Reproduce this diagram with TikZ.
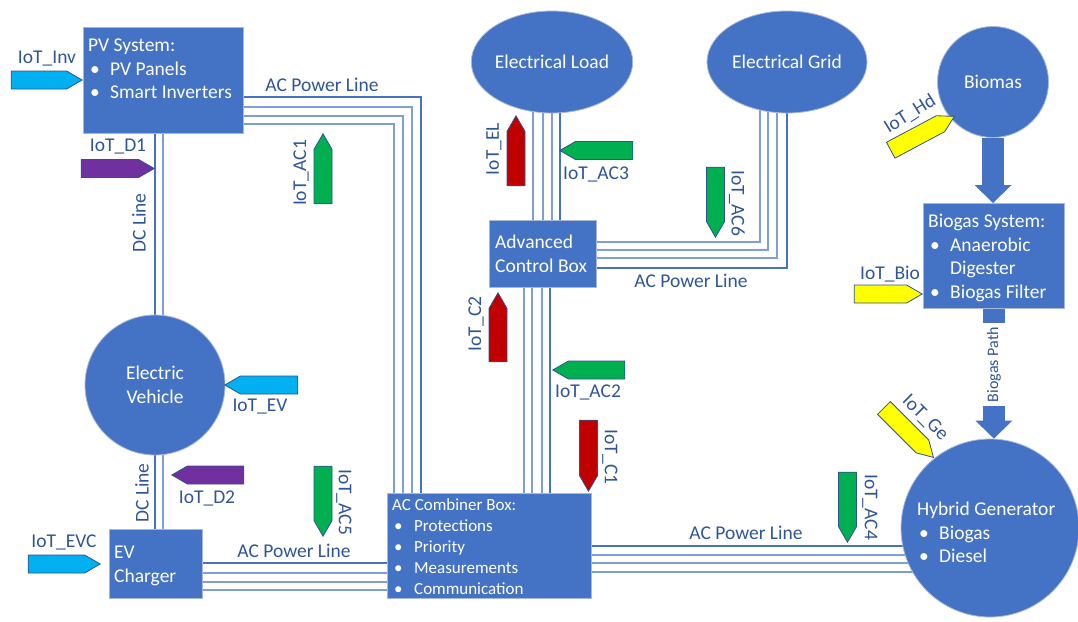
\documentclass[tikz,border=0pt]{standalone}
\usepackage{fontspec}
\setmainfont{Carlito}
\usetikzlibrary{arrows.meta,calc,positioning,shapes.geometric,shapes.symbols}
\definecolor{BoxBlue}{HTML}{4472C4}
\definecolor{BoxEdge}{HTML}{A9B8D6}
\definecolor{LabelBlue}{HTML}{2F5597}
\definecolor{LineLight}{HTML}{7F9ED8}
\definecolor{IoTEdge}{HTML}{2F528F}
\definecolor{IoTCyan}{HTML}{00B0F0}
\definecolor{IoTPurple}{HTML}{7030A0}
\definecolor{IoTGreen}{HTML}{00B050}
\definecolor{IoTRed}{HTML}{C00000}
\definecolor{IoTYellow}{HTML}{FFFF00}
\pgfdeclarelayer{background}
\pgfsetlayers{background,main}
\newcommand{\itm}{\hspace*{2pt}\makebox[20pt][l]{\textbullet}}
\tikzset{
  box/.style={draw=BoxEdge,line width=0.8pt,fill=BoxBlue,inner sep=0pt,anchor=north west},
  boxtext/.style={text=white,align=left,inner sep=0pt,anchor=north west,font=\fontsize{19.5}{23.5}\selectfont},
  blob/.style={draw=BoxEdge,line width=0.8pt,fill=BoxBlue,text=white,inner sep=0pt,align=center,font=\fontsize{19.5}{23.5}\selectfont},
  lab/.style={text=LabelBlue,inner sep=0pt,font=\fontsize{19.5}{23.5}\selectfont},
  iot/.style={signal,signal to=east,signal pointer angle=60,draw=IoTEdge,line width=0.8pt,minimum height=18pt,inner sep=0pt,anchor=east},
  acdark/.style={draw=BoxBlue,line width=1.6pt},
  aclight/.style={draw=LineLight,line width=1.1pt},
  fat/.style={draw=BoxBlue,line width=22pt,-{Triangle[length=18pt,width=37pt,line width=0pt]}},
  pathlab/.style={fill=white,text=LabelBlue,rotate=90,inner sep=0pt,minimum width=83pt,minimum height=22pt,font=\fontsize{16}{19}\selectfont},
}

\begin{document}
\begin{tikzpicture}[x=1pt,y=-1pt]
\useasboundingbox (0,0) rectangle (1078,621);

% Boxes
\node[box,minimum width=160pt,minimum height=106pt] (pv) at (83,27) {};
\node[boxtext] (pvtext) at (88,39) {PV System:\\\itm PV Panels\\\itm Smart Inverters};
\node[box,minimum width=107pt,minimum height=67pt] (acb) at (489,220) {};
\node[boxtext] (acbtext) at (495,235) {Advanced\\Control Box};
\node[box,minimum width=93pt,minimum height=69pt] (evc) at (109,529) {};
\node[boxtext] (evctext) at (114,546) {EV\\Charger};
\node[box,minimum width=204pt,minimum height=105pt] (comb) at (387,493) {};
\node[boxtext,font=\fontsize{17}{21}\selectfont] (combtext) at (392,498)
  {AC Combiner Box:\\\itm Protections\\\itm Priority\\\itm Measurements\\\itm Communication};
\node[box,minimum width=141pt,minimum height=105pt] (biogas) at (923,203) {};
\node[boxtext] (biogastext) at (928,214)
  {Biogas System:\\\itm Anaerobic\\\hspace*{22pt}Digester\\\itm Biogas Filter};

% Round nodes
\node[blob,ellipse,minimum width=160pt,minimum height=102pt] (el) at (552,62) {Electrical Load};
\node[blob,ellipse,minimum width=160pt,minimum height=102pt] (grid) at (787,62) {Electrical Grid};
\node[blob,circle,minimum size=111pt] (biomas) at (993,82) {Biomas};
\node[blob,circle,minimum size=140pt] (ev) at (155,385) {Electric\\Vehicle};
\node[blob,circle,minimum size=178pt] (hg) at (990,528) {};
\node[boxtext] (hgtext) at (917,502) {Hybrid Generator\\\itm Biogas\\\itm Diesel};

% Power lines
\begin{pgfonlayer}{background}
\foreach \dy/\dx/\sty in {70/34/acdark,80/25/aclight,89/16/aclight,97/7/aclight}
  \draw[\sty] ($(pv.north east)+(0,\dy)$) -| ($(comb.north west)+(\dx,0)$);
\foreach \dx/\sty in {0/acdark,8/aclight}{
  \coordinate (dc) at ($(ev.center)+(\dx,0)$);
  \draw[\sty] (dc |- pv.south) -- (dc |- evc.north);
}
\foreach \dy/\sty in {34/acdark,44/aclight,53/aclight,61/aclight}{
  \coordinate (ac) at ($(evc.north east)+(0,\dy)$);
  \draw[\sty] (ac) -- (ac -| comb.west);
}
\foreach \dy/\sty in {53/acdark,62/aclight,70/aclight,79/aclight}{
  \coordinate (ac) at ($(comb.north east)+(0,\dy)$);
  \draw[\sty] (ac) -- (ac -| hg.center);
}
\foreach \dx/\sty in {44/aclight,54/aclight,63/aclight,71/acdark}{
  \coordinate (ac) at ($(acb.north west)+(\dx,0)$);
  \draw[\sty] (ac) -- (ac |- el.center);
}
\foreach \dy/\dx/\sty in {22/-27/aclight,30/-19/aclight,38/-10/aclight,48/0/acdark}
  \draw[\sty] ($(acb.north east)+(0,\dy)$) -| ($(grid.center)+(\dx,0)$);
\foreach \dx/\sty in {35/aclight,43/aclight,53/aclight,61/acdark}{
  \coordinate (ac) at ($(acb.south west)+(\dx,0)$);
  \draw[\sty] (ac) -- (ac |- comb.north);
}
\end{pgfonlayer}

% Biogas flow
\draw[fat] (biomas.south) -- (biomas.south |- biogas.north);
\draw[fat] (biogas.south) -- node[pathlab,pos=0.43] (bpath) {Biogas Path} (biogas.south |- hg.north);

% IoT sensors (placed by their tips)
\node[iot,fill=IoTCyan,minimum width=71pt] (iotinv) at (83,80) {};
\node[iot,fill=IoTPurple,minimum width=73pt] (iotd1) at (155,168.5) {};
\node[iot,fill=IoTGreen,rotate=90,minimum width=70pt] (iotac1) at (323,133) {};
\node[iot,fill=IoTRed,rotate=90,minimum width=70pt] (iotel) at (516,115) {};
\node[iot,fill=IoTGreen,rotate=180,minimum width=73pt] (iotac3) at (559,150.5) {};
\node[iot,fill=IoTGreen,rotate=-90,minimum width=70pt] (iotac6) at (715.5,238) {};
\node[iot,fill=IoTRed,rotate=90,minimum width=69pt] (iotc2) at (498,292) {};
\node[iot,fill=IoTGreen,rotate=180,minimum width=72pt] (iotac2) at (552,370) {};
\node[iot,fill=IoTRed,rotate=-90,minimum width=71pt] (iotc1) at (588.5,492) {};
\node[iot,fill=IoTCyan,rotate=180,minimum width=73pt] (iotev) at (224,385) {};
\node[iot,fill=IoTPurple,rotate=180,minimum width=72pt] (iotd2) at (171,475) {};
\node[iot,fill=IoTCyan,minimum width=72pt] (iotevc) at (101,564) {};
\node[iot,fill=IoTGreen,rotate=-90,minimum width=70pt] (iotac5) at (323,537) {};
\node[iot,fill=IoTGreen,rotate=-90,minimum width=70pt] (iotac4) at (847.5,543) {};
\node[iot,fill=IoTYellow,minimum width=68pt] (iotbio) at (923,294) {};
\node[iot,fill=IoTYellow,rotate=28,minimum width=72pt] (iothd) at (955,116) {};
\node[iot,fill=IoTYellow,rotate=-45,minimum width=70pt] (iotge) at (934,458) {};

% Labels
\node[lab] (lacpv) at (322,85) {AC Power Line};
\node[lab,rotate=90] (ldc1) at (139,223) {DC Line};
\node[lab] (linv) at (47,59) {IoT\_Inv};
\node[lab] (ld1) at (118,147) {IoT\_D1};
\node[lab,rotate=90] (lac1) at (301,173) {IoT\_AC1};
\node[lab,rotate=90] (lel) at (494,149) {IoT\_EL};
\node[lab] (lac3) at (596,174) {IoT\_AC3};
\node[lab,rotate=-90] (lac6) at (737,203) {IoT\_AC6};
\node[lab] (lacacb) at (691,281) {AC Power Line};
\node[lab,rotate=90] (lc2) at (476,324) {IoT\_C2};
\node[lab] (lac2) at (588,392) {IoT\_AC2};
\node[lab,rotate=-90] (lc1) at (610,457) {IoT\_C1};
\node[lab] (lev) at (260,407) {IoT\_EV};
\node[lab,rotate=90] (ldc2) at (142,493) {DC Line};
\node[lab] (ld2) at (207,498) {IoT\_D2};
\node[lab] (levc) at (64,542) {IoT\_EVC};
\node[lab] (lacevc) at (294,551) {AC Power Line};
\node[lab,rotate=-90] (lac5) at (344,502) {IoT\_AC5};
\node[lab] (lachg) at (746,533) {AC Power Line};
\node[lab,rotate=-90] (lac4) at (870,507) {IoT\_AC4};
\node[lab,rotate=-45] (lge) at (925,418) {IoT\_Ge};
\node[lab,rotate=32] (lhd) at (910,114) {IoT\_Hd};
\node[lab] (lbio) at (890,274) {IoT\_Bio};

\end{tikzpicture}
\end{document}
